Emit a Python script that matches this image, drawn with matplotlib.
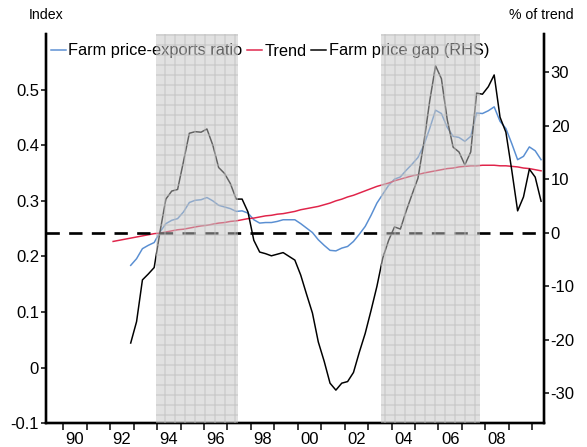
import numpy as np
import matplotlib
matplotlib.use("Agg")
import matplotlib.pyplot as plt

DPI = 120
plt.rcParams["font.family"] = ["Liberation Sans Narrow", "Liberation Sans", "DejaVu Sans"]
plt.rcParams["hatch.linewidth"] = 0.8

# quarterly data, plotted at mid-quarter
RATIO_START = 1992.875   # 1992Q4
TREND_START = 1992.125   # 1992Q1

# Farm price-exports ratio (index, LHS)
ratio = [0.184, 0.196, 0.214, 0.220, 0.225, 0.244, 0.259, 0.265, 0.268, 0.280,
         0.297, 0.301, 0.302, 0.306, 0.300, 0.292, 0.289, 0.286, 0.281, 0.282,
         0.278, 0.266, 0.260, 0.261, 0.261, 0.263, 0.266, 0.266, 0.266, 0.259,
         0.251, 0.243, 0.230, 0.220, 0.211, 0.210, 0.215, 0.218, 0.227, 0.240,
         0.254, 0.274, 0.296, 0.312, 0.328, 0.339, 0.343, 0.355, 0.366, 0.378,
         0.400, 0.430, 0.463, 0.457, 0.432, 0.416, 0.414, 0.407, 0.416, 0.458,
         0.457, 0.462, 0.469, 0.443, 0.430, 0.403, 0.374, 0.380, 0.397, 0.390,
         0.374]

# Trend (index, LHS)
trend = [0.227, 0.229, 0.231,
         0.233, 0.235, 0.237, 0.239, 0.241, 0.242, 0.244, 0.246, 0.248, 0.249,
         0.251, 0.253, 0.255, 0.256, 0.258, 0.260, 0.261, 0.263, 0.264, 0.266,
         0.268, 0.269, 0.271, 0.273, 0.274, 0.276, 0.277, 0.279, 0.281, 0.284,
         0.286, 0.288, 0.290, 0.293, 0.296, 0.300, 0.303, 0.307, 0.310, 0.314,
         0.318, 0.322, 0.326, 0.329, 0.332, 0.336, 0.339, 0.342, 0.345, 0.347,
         0.350, 0.352, 0.354, 0.356, 0.358, 0.359, 0.361, 0.362, 0.363, 0.363,
         0.364, 0.364, 0.364, 0.363, 0.363, 0.362, 0.361, 0.359, 0.358, 0.356,
         0.354]

# Farm price gap (% of trend, RHS)
gap = [-20.6, -16.6, -8.8, -7.7, -6.5, 0.2, 6.3, 7.8, 8.1, 13.3,
       18.6, 18.9, 18.8, 19.4, 16.4, 12.2, 11.1, 9.2, 6.3, 6.3,
       3.9, -1.4, -3.6, -3.9, -4.3, -4.0, -3.7, -4.4, -5.1, -7.9,
       -11.5, -15.0, -20.4, -24.0, -28.1, -29.4, -28.1, -27.8, -26.1, -22.3,
       -18.8, -14.5, -10.0, -4.7, -1.4, 1.1, 0.7, 4.1, 7.2, 10.2,
       16.8, 24.6, 31.2, 28.8, 21.1, 16.0, 15.1, 12.7, 15.1, 26.1,
       25.9, 27.3, 29.5, 21.6, 18.8, 11.7, 4.1, 6.7, 11.9, 10.4,
       5.9]

shaded = [(1993.95, 1997.45), (2003.55, 2007.75)]

year_ticks = list(range(1990, 2011))
label_years = list(range(1990, 2009, 2))
left_ticks = [-0.1, 0, 0.1, 0.2, 0.3, 0.4, 0.5]
left_labels = ["-0.1", "0", "0.1", "0.2", "0.3", "0.4", "0.5"]
right_ticks = [-30, -20, -10, 0, 10, 20, 30]
right_labels = ["-30", "-20", "-10", "0", "10", "20", "30"]

BLUE = "#5a8fd2"
RED = "#e0244a"
TICK_FS = 10


def main() -> None:
    fig = plt.figure(figsize=(587 / DPI, 447 / DPI), dpi=DPI)
    ax = fig.add_axes([45.7 / 587, 1 - 423.3 / 447, (544 - 45.7) / 587, (423.3 - 34) / 447])
    ax2 = ax.twinx()

    t_ratio = RATIO_START + 0.25 * np.arange(len(ratio))
    t_trend = TREND_START + 0.25 * np.arange(len(trend))
    t_gap = RATIO_START + 0.25 * np.arange(len(gap))

    l1, = ax.plot(t_ratio, ratio, color=BLUE, lw=0.9, zorder=2)
    l2, = ax.plot(t_trend, trend, color=RED, lw=0.9, zorder=2)
    l3, = ax2.plot(t_gap, gap, color="black", lw=0.9, zorder=2)
    ax2.axhline(0, color="black", lw=1.6, ls=(0, (5, 3.5)), zorder=2)

    for a, b in shaded:
        ax2.axvspan(a, b, facecolor="#c4c4c4", alpha=0.5, lw=0, zorder=5)
        ax2.axvspan(a, b, facecolor="none", edgecolor="#bcbcbc", hatch="++",
                    alpha=0.6, lw=0, zorder=6)

    ax.set_xlim(1989.25, 2010.5)
    ax.set_ylim(-0.1, 0.6)
    ax2.set_ylim(-35.6, 37.15)

    ax.set_xticks(year_ticks)
    ax.set_xticklabels([])
    ax.set_xticks([y + 0.5 for y in label_years], minor=True)
    ax.set_xticklabels([f"{y % 100:02d}" for y in label_years], minor=True, fontsize=TICK_FS)
    ax.tick_params(axis="x", which="major", direction="out", length=4, width=0.9)
    ax.tick_params(axis="x", which="minor", length=0, pad=5)

    ax.set_yticks(left_ticks)
    ax.set_yticklabels(left_labels, fontsize=TICK_FS)
    ax.tick_params(axis="y", direction="out", length=3, width=0.9, pad=1)
    ax2.set_yticks(right_ticks)
    ax2.set_yticklabels(right_labels, fontsize=TICK_FS)
    ax2.tick_params(axis="y", direction="out", length=3, width=0.9, pad=1)

    for a in (ax, ax2):
        a.spines["top"].set_visible(False)
        for s in ("left", "right", "bottom"):
            a.spines[s].set_linewidth(1.4)

    fig.text(46 / 587, 1 - 15 / 447, "Index", ha="center", va="center", fontsize=8.5)
    fig.text(541 / 587, 1 - 15 / 447, "% of trend", ha="center", va="center", fontsize=8.5)

    ax.legend([l1, l2, l3], ["Farm price-exports ratio", "Trend", "Farm price gap (RHS)"],
              loc="center left", bbox_to_anchor=(51 / 587, 1 - 51 / 447),
              bbox_transform=fig.transFigure, ncol=3, frameon=False, fontsize=9.8,
              handlelength=0.9, handletextpad=0.15, columnspacing=0.3,
              borderpad=0, borderaxespad=0)

    fig.savefig("out.png", dpi=DPI)
    plt.close(fig)


if __name__ == "__main__":
    main()
